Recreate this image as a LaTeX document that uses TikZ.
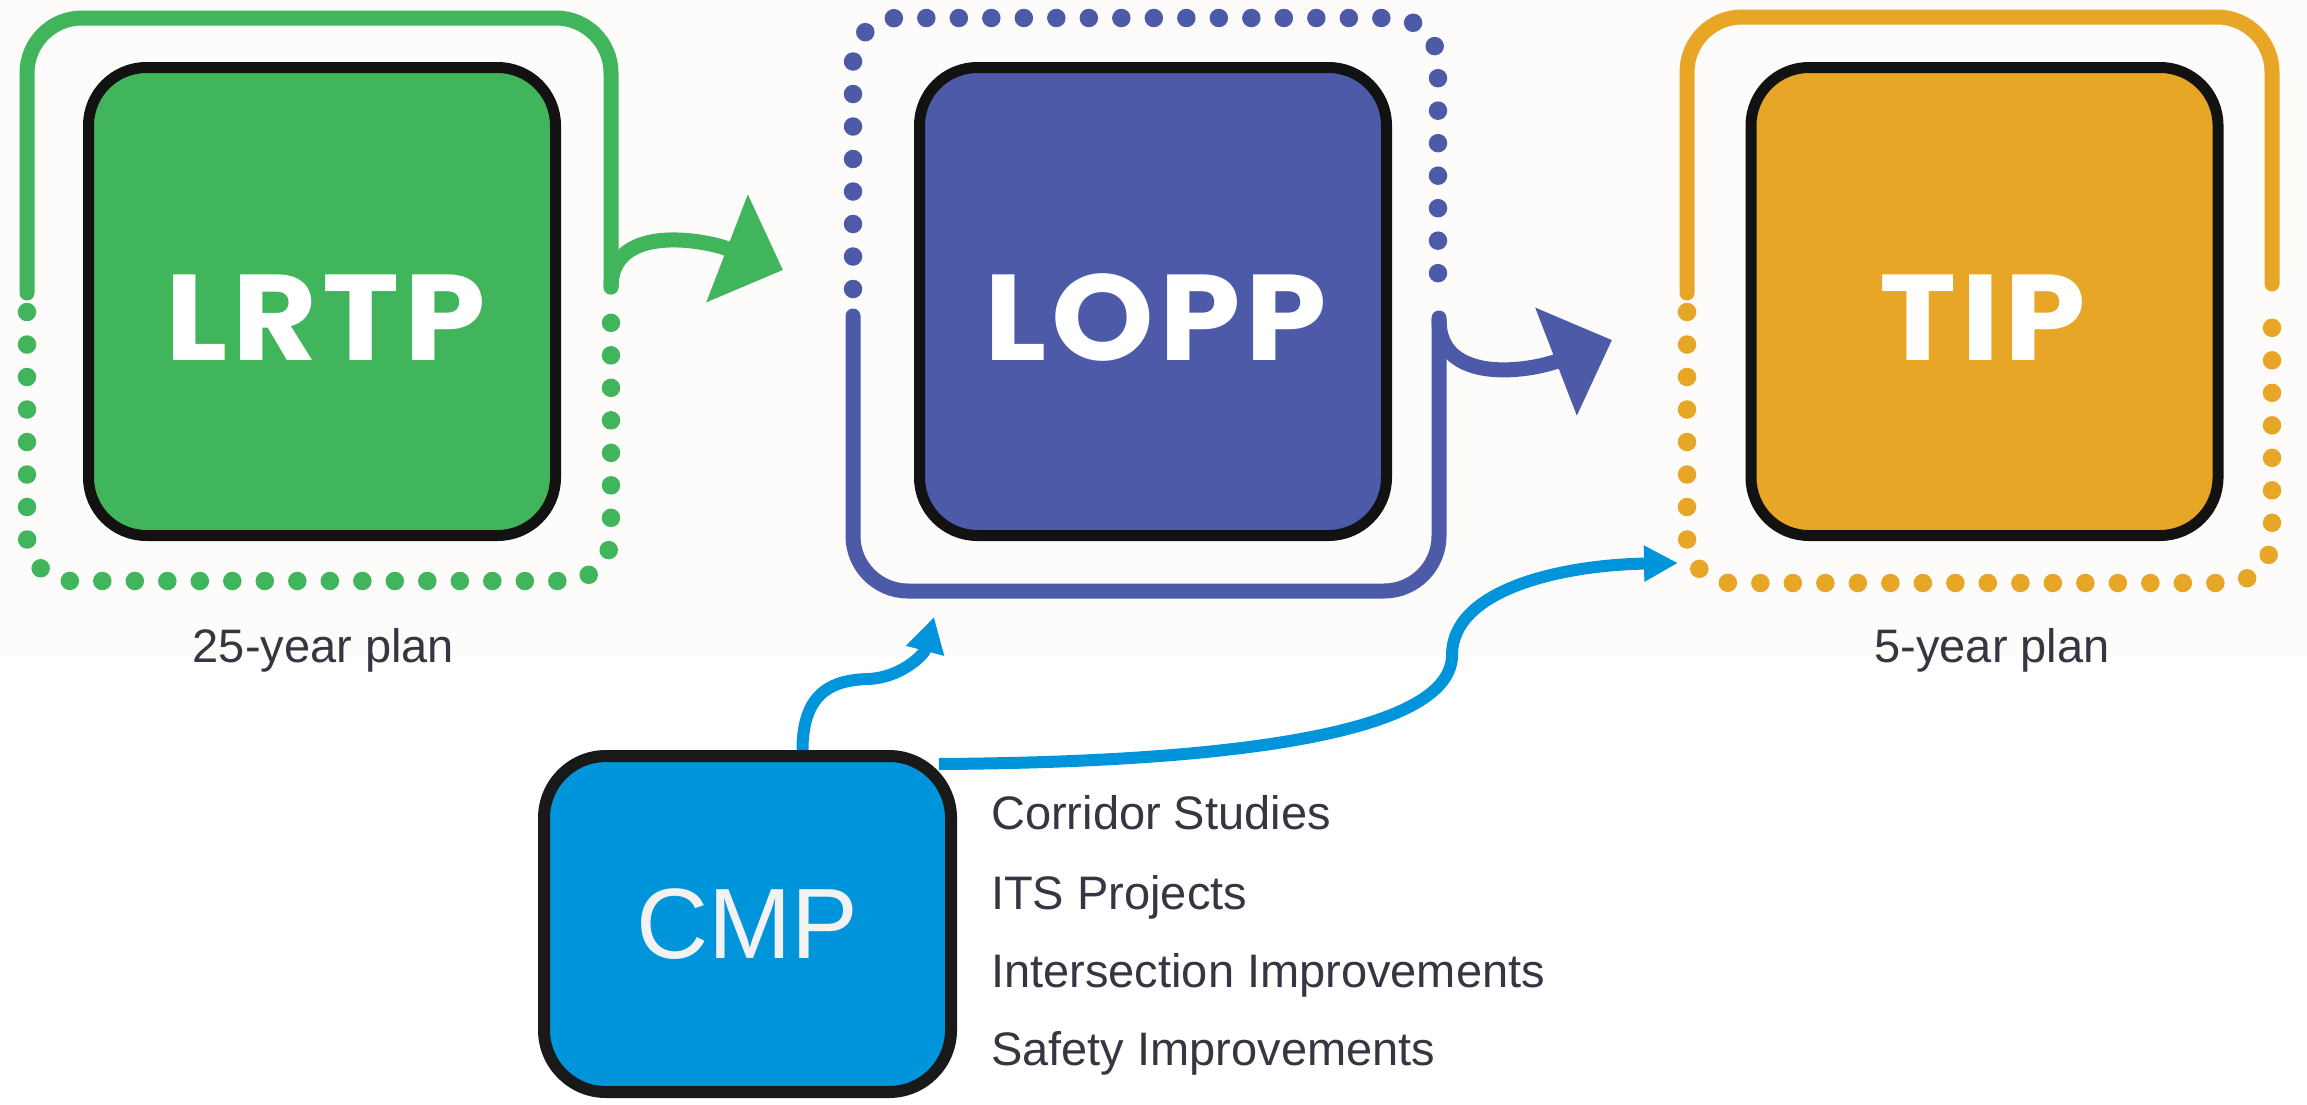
\documentclass[tikz,border=0pt]{standalone}
\usepackage{fontspec}
\setmainfont{Liberation Sans}
\newfontfamily\boxfont{Poppins}[FakeStretch=1.07,LetterSpace=4]
\usetikzlibrary{arrows.meta}

\definecolor{lrtpgreen}{RGB}{65,181,92}
\definecolor{loppblue}{RGB}{76,90,168}
\definecolor{tipgold}{RGB}{231,166,37}
\definecolor{cmpblue}{RGB}{0,148,219}
\definecolor{labelgray}{RGB}{54,54,66}
\definecolor{paper}{RGB}{253,252,250}

\begin{document}
\begin{tikzpicture}[x=1pt,y=-1pt,
    planbox/.style={draw=black!93,line width=11pt,rounded corners=58pt,minimum width=467pt,minimum height=468pt,outer sep=0pt,inner sep=0pt},
    plantext/.style={text=white,font=\boxfont\bfseries\fontsize{122}{130}\selectfont,anchor=base,inner sep=0pt},
    solidloop/.style={line width=15pt,rounded corners=55pt,line cap=round},
    dotloop/.style={line width=18.5pt,rounded corners=45pt,line cap=round,dash pattern=on 0pt off 32.5pt},
    bigarrow/.style={line width=15pt,line cap=round,-{Triangle[length=60pt,width=112pt]}},
    cmparrow/.style={draw=cmpblue,line width=12pt},
    note/.style={text=labelgray,font=\fontsize{47}{57}\selectfont,anchor=base west,inner sep=0pt}
  ]
    \fill[white] (0,0) rectangle (2307,1104);
    \fill[paper] (0,0) rectangle (2307,657);
    \useasboundingbox (0,0) rectangle (2307,1104);

    % the three plans
    \node[planbox,fill=lrtpgreen] (lrtp) at (322,301.5) {};
    \node[plantext] (lrtp-name) at (326,360) {LRTP};
    \node[planbox,fill=loppblue] (lopp) at (1153,301.5) {};
    \node[plantext] (lopp-name) at (1156,360) {LOPP};
    \node[planbox,fill=tipgold] (tip) at (1984.5,301.5) {};
    \node[plantext] (tip-name) at (1983,360) {TIP};

    \draw[solidloop,lrtpgreen] (27,293) -- (27,18) -- (611,18) -- (611,287);
    \draw[dotloop,lrtpgreen] (27,312) -- (27,581) -- (611,581) -- (611,304);
    \draw[dotloop,loppblue] (853,289) -- (853,18) -- (1438,18) -- (1438,293);
    \draw[solidloop,loppblue] (853,316) -- (853,591) -- (1439,591) -- (1439,318);
    \draw[solidloop,tipgold] (1687,293) -- (1687,17) -- (2272,17) -- (2272,284);
    \draw[dotloop,tipgold] (1687,312) -- (1687,583) -- (2272,583) -- (2272,308);

    \coordinate (lrtp-out) at (611,287);
    \coordinate (lopp-in) at (783,270);
    \coordinate (lopp-out) at (1439,320);
    \coordinate (tip-in) at (1612,340);
    \draw[bigarrow,lrtpgreen] (lrtp-out) .. controls (611,225) and (700,238) .. (lopp-in);
    \draw[bigarrow,loppblue] (lopp-out) .. controls (1439,385) and (1529,372) .. (tip-in);

    \node[note,anchor=base] (long-range) at (323.5,662) {25-year plan};
    \node[note,anchor=base] (short-range) at (1992,662) {5-year plan};

    % CMP and what it feeds
    \node[draw=black!90,line width=12pt,fill=cmpblue,rounded corners=62pt,minimum width=407pt,minimum height=336pt,outer sep=0pt,
          text=white!95!black,font=\fontsize{100}{110}\selectfont] (cmp) at (747.5,924) {CMP};
    \node[note] (corridor) at (991,829) {Corridor Studies};
    \node[note] (its) at (991,909) {ITS Projects};
    \node[note] (inter) at (991,987) {Intersection Improvements};
    \node[note] (safety) at (991,1065) {Safety Improvements};

    \coordinate (lopp-feed) at (934,617);
    \coordinate (tip-feed) at (1678,563);
    \draw[cmparrow,-{Triangle[length=35pt,width=37pt]}] ([xshift=55pt,yshift=6pt]cmp.north)
        .. controls (802.5,690) and (835,680) .. (868,679) .. controls (900,678) and (924,655) .. (lopp-feed);
    \draw[cmparrow,-{Triangle[length=34pt,width=34pt]}] ([xshift=-12pt,yshift=-8pt]cmp.north east)
        .. controls (1250,762) and (1452,730) .. (1452,655) .. controls (1452,590) and (1560,565) .. (tip-feed);
\end{tikzpicture}
\end{document}
